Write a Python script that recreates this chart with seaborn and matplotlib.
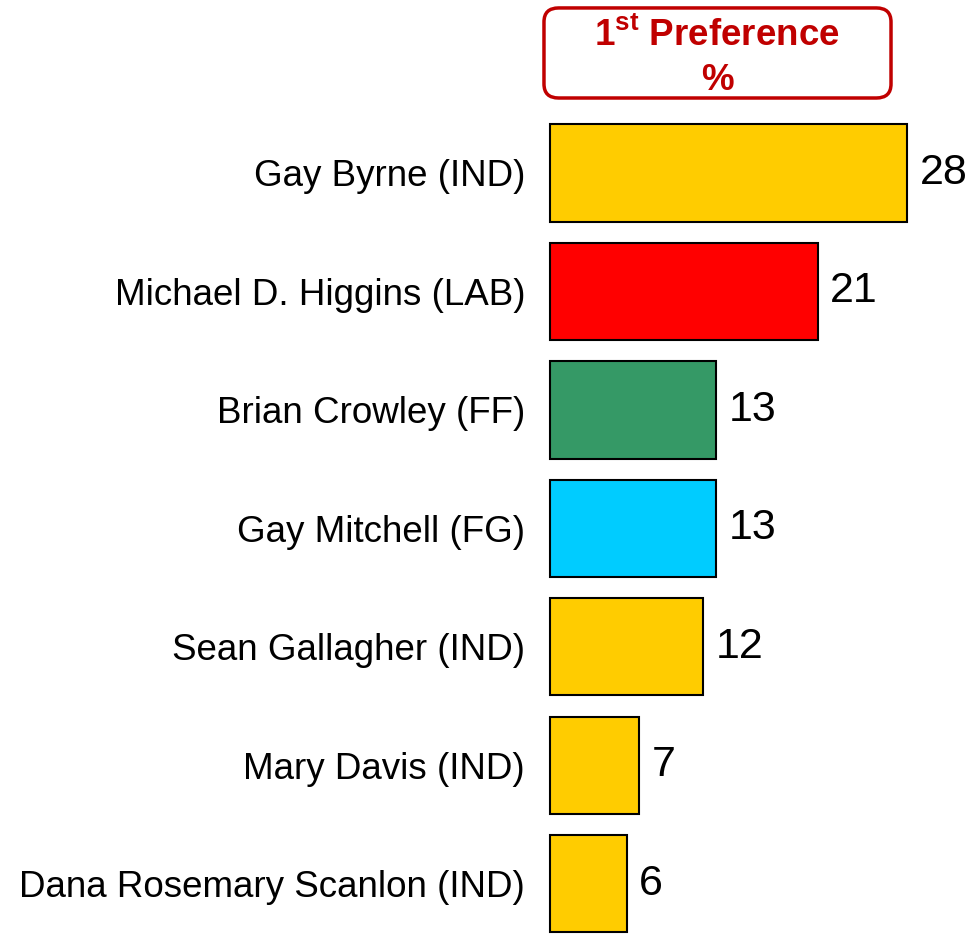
import matplotlib
matplotlib.use("Agg")
import matplotlib.pyplot as plt
import seaborn as sns
import pandas as pd
from matplotlib.patches import FancyBboxPatch

candidates = ["Gay Byrne (IND)", "Michael D. Higgins (LAB)", "Brian Crowley (FF)",
              "Gay Mitchell (FG)", "Sean Gallagher (IND)", "Mary Davis (IND)",
              "Dana Rosemary Scanlon (IND)"]
first_pref = [28, 21, 13, 13, 12, 7, 6]
bar_colors = ["#FFCC00", "#FF0000", "#359966", "#00CCFF", "#FFCC00", "#FFCC00", "#FFCC00"]

sns.set_style("white")
plt.rcParams['font.family'] = ['Liberation Sans', 'DejaVu Sans']
plt.rcParams['mathtext.fontset'] = 'custom'
plt.rcParams['mathtext.bf'] = 'Liberation Sans:bold'
plt.rcParams['mathtext.rm'] = 'Liberation Sans'

df = pd.DataFrame({"name": candidates, "pct": first_pref})

fig = plt.figure(figsize=(9.74, 9.36), dpi=100)
ax = fig.add_axes([0.5647, 0.0, 0.432, 0.8785])

sns.barplot(data=df, x="pct", y="name", hue="name", palette=bar_colors,
            saturation=1, orient="h", width=0.82, edgecolor="black",
            linewidth=1.5, legend=False, ax=ax)
for p in ax.patches:
    p.set_clip_on(False)

for c in ax.containers:
    ax.bar_label(c, fmt="%d", padding=9, fontsize=31, color="black")

ax.set_xlim(0, 33)
ax.set_ylim(6.44, -0.5)
ax.set_xlabel("")
ax.set_ylabel("")
ax.set_xticks([])
ax.tick_params(axis="y", length=0, pad=18, labelsize=26.5, labelcolor="black")
sns.despine(ax=ax, left=True, bottom=True)

# header box
box = FancyBboxPatch((0.5585, 0.8953), 0.3563, 0.0962,
                     boxstyle="round,pad=0,rounding_size=0.015",
                     transform=fig.transFigure, facecolor="white",
                     edgecolor="#C00000", linewidth=2.5)
fig.patches.append(box)
fig.text(0.7361, 0.962, r"1$^{\mathbf{st}}$ Preference", ha="center", va="center",
         fontsize=26.5, fontweight="bold", color="#C00000")
fig.text(0.7361, 0.914, "%", ha="center", va="center", fontsize=26.5,
         fontweight="bold", color="#C00000")

fig.savefig("out.png", dpi=100)
